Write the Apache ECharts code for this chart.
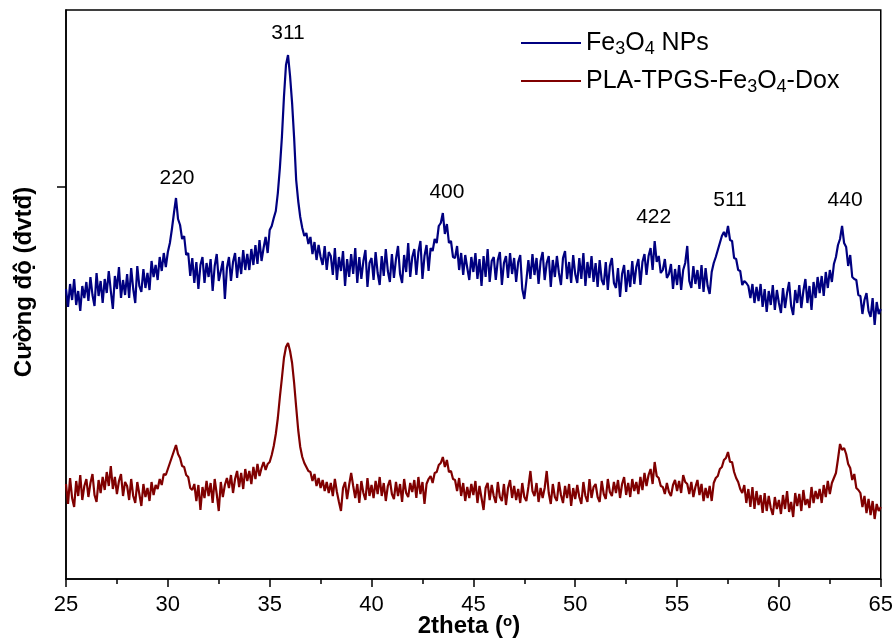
<!DOCTYPE html>
<html>
<head>
<meta charset="utf-8">
<script src="https://cdn.jsdelivr.net/npm/echarts@6/dist/echarts.min.js"></script>
<style>html,body{margin:0;padding:0;background:#fff}#c{width:896px;height:640px}</style>
</head>
<body>
<div id="c"></div>
<script>
// 2theta from 25.0 to 65.0, step 0.1 degree
const thetaStart = 25.0;
const thetaStep = 0.1;
// Fe3O4 NPs intensity (arbitrary units, stacked offset)
const fe3o4 = [
290,272,295,279,300,274,288,268,293,281,
297,278,302,284,273,306,283,298,276,300,
286,308,288,270,303,290,312,281,299,284,
305,281,311,290,276,313,293,287,310,291,
306,289,318,302,314,299,322,308,326,312,
327,336,350,366,381,360,354,340,343,324,
326,303,321,296,317,290,314,322,296,316,
302,320,288,313,325,298,308,318,280,311,
322,298,317,326,301,322,305,329,309,325,
309,330,314,334,315,339,318,331,342,326,
349,353,361,368,386,411,442,482,514,524,
503,476,441,399,378,362,351,343,346,335,
342,325,337,319,334,322,314,333,309,327,
323,304,331,299,322,308,328,293,320,302,
325,305,331,296,322,300,318,329,292,316,
321,299,327,306,294,323,303,330,308,297,
325,301,320,333,305,296,324,307,336,302,
322,330,304,327,338,300,323,334,308,331,
328,340,336,353,356,366,345,355,336,338,
322,321,333,309,326,304,324,311,299,322,
307,326,300,320,293,323,302,330,297,318,
322,299,319,327,294,316,323,301,326,305,
321,297,317,324,290,280,298,319,300,325,
304,321,295,318,327,299,316,323,292,319,
302,323,306,294,321,328,300,317,296,324,
305,296,321,300,326,293,317,301,323,297,
316,292,319,299,294,317,289,313,321,296,
291,311,282,305,314,287,309,292,318,295,
312,320,294,317,325,304,323,331,309,338,
317,323,306,309,320,301,305,315,290,310,
294,314,289,309,316,333,298,291,313,295,
309,290,314,287,311,293,285,307,316,322,
329,336,343,347,342,353,339,338,321,320,
309,308,294,298,296,293,281,295,276,292,
278,295,272,290,267,288,274,294,269,289,
276,266,291,271,286,297,273,264,289,276,
294,271,288,300,276,293,269,297,281,302,
286,303,283,307,291,309,297,315,322,334,
340,353,336,332,313,324,302,300,299,284,
283,265,279,286,268,262,281,254,277,265,
270
];
// PLA-TPGS-Fe3O4-Dox intensity (arbitrary units)
const plaDox = [
95,75,101,81,72,98,83,104,79,93,
100,82,96,105,84,77,99,86,102,89,
107,93,113,90,102,85,98,105,83,97,
93,79,100,83,76,97,85,73,95,82,
91,78,97,84,94,90,100,94,105,104,
110,116,122,128,134,125,121,113,112,104,
102,91,89,95,78,94,69,92,81,98,
83,96,76,100,85,68,97,82,94,101,
91,104,86,100,108,92,106,90,110,98,
108,95,112,100,115,103,111,117,109,115,
117,124,133,145,161,182,201,221,232,236,
228,216,196,172,149,132,122,116,112,108,
107,98,105,93,101,91,99,88,97,86,
96,83,100,87,77,68,91,97,80,94,
106,93,81,95,76,98,86,79,101,83,
94,81,98,85,102,83,96,78,93,99,
85,80,97,83,95,77,100,86,82,96,
87,99,81,102,85,97,75,95,100,103,
96,106,107,114,116,122,112,119,107,108,
100,99,88,101,83,96,78,92,81,95,
84,98,76,93,81,69,91,96,79,94,
83,76,97,82,78,95,74,91,99,81,
93,79,90,76,96,82,78,92,108,88,
83,96,77,91,81,91,108,86,75,95,
82,78,97,84,76,93,81,95,73,91,
80,94,82,75,97,83,77,100,81,92,
95,82,77,98,85,80,100,87,83,97,
86,99,81,95,102,84,96,82,100,88,
97,85,102,89,106,93,104,110,95,117,
103,101,93,92,85,96,87,83,94,99,
88,98,86,104,97,95,85,97,82,92,
99,84,95,78,91,81,93,78,96,101,
103,110,112,119,121,127,117,117,107,101,
97,90,86,94,76,90,72,92,70,88,
74,84,66,86,68,83,71,64,82,70,
79,65,84,70,88,67,77,62,86,73,
85,68,89,74,80,71,92,76,88,80,
90,76,94,82,98,85,96,101,106,120,
135,129,131,125,115,111,99,105,91,89,
86,72,83,66,80,64,78,60,75,68,
72
];
// Peak (hkl) labels and where they sit (2theta, intensity)
const peakNames = ['220','311','400','422','511','440'];
const peakTheta = [30.45, 35.9, 43.7, 53.85, 57.6, 63.25];
const peakLabelY = [401, 546, 387, 362, 379, 379];
const xTicks = [25,30,35,40,45,50,55,60,65];
const seriesNames = ['Fe3O4 NPs','PLA-TPGS-Fe3O4-Dox'];
const seriesRich = ['Fe{s|3}O{s|4} NPs','PLA-TPGS-Fe{s|3}O{s|4}-Dox'];

const toPairs = arr => arr.map((v,i)=>[+(thetaStart + i*thetaStep).toFixed(2), v]);
const FONT = 'Liberation Sans, Arial, sans-serif';

const chart = echarts.init(document.getElementById('c'), null, {renderer:'canvas'});
chart.setOption({
  animation:false,
  backgroundColor:'#fff',
  grid:{left:66,right:14,top:10,bottom:61,show:true,borderColor:'#000',borderWidth:1.5,backgroundColor:'transparent'},
  legend:{
    orient:'vertical', left:521, top:28, padding:0, icon:'rect', itemWidth:60, itemHeight:2, itemGap:8, itemTextGap:8,
    data:seriesNames,
    formatter: n => seriesRich[seriesNames.indexOf(n)],
    textStyle:{fontFamily:FONT,fontSize:25,color:'#000',lineHeight:30,
      rich:{s:{fontFamily:FONT,fontSize:18,lineHeight:11,verticalAlign:'bottom',color:'#000'}}}
  },
  xAxis:{
    type:'value', min:xTicks[0], max:xTicks[xTicks.length-1], interval:5,
    axisLine:{lineStyle:{color:'#000',width:1.5}},
    axisTick:{show:true,inside:false,length:8,lineStyle:{color:'#000',width:1.5}},
    minorTick:{show:true,splitNumber:2,length:5,lineStyle:{color:'#000',width:1.5}},
    splitLine:{show:false},
    axisLabel:{fontFamily:FONT,fontSize:22,color:'#000',margin:15}
  },
  yAxis:{
    type:'value', min:0, max:569,
    axisLine:{show:true,lineStyle:{color:'#000',width:1.5}},
    axisTick:{show:true,inside:false,length:9,customValues:[392],lineStyle:{color:'#000',width:1.5}},
    axisLabel:{show:false},
    splitLine:{show:false}
  },
  graphic:[
    {type:'text', x:469, y:626, style:{text:'2theta ({p|o})', fontFamily:FONT, fontWeight:'bold', fontSize:24, fill:'#000', align:'center', verticalAlign:'middle',
      rich:{p:{fontFamily:FONT,fontWeight:'bold',fontSize:15,verticalAlign:'top',lineHeight:24}}}},
    {type:'text', x:24, y:282, rotation:Math.PI/2, style:{text:'Cường độ (đvtđ)', fontFamily:FONT, fontWeight:'bold', fontSize:24, fill:'#000', align:'center', verticalAlign:'middle'}}
  ],
  series:[
    {name:seriesNames[0], type:'line', data:toPairs(fe3o4), symbol:'none', lineStyle:{color:'#000080',width:2.2}, itemStyle:{color:'#000080'},
     markPoint:{symbol:'circle',symbolSize:0, silent:true,
       label:{show:true,position:'inside',formatter:'{b}',fontFamily:FONT,fontSize:21,color:'#000'},
       data:peakNames.map((n,i)=>({name:n,coord:[peakTheta[i],peakLabelY[i]]}))}},
    {name:seriesNames[1], type:'line', data:toPairs(plaDox), symbol:'none', lineStyle:{color:'#800000',width:2.2}, itemStyle:{color:'#800000'}}
  ]
});
</script>
</body>
</html>
